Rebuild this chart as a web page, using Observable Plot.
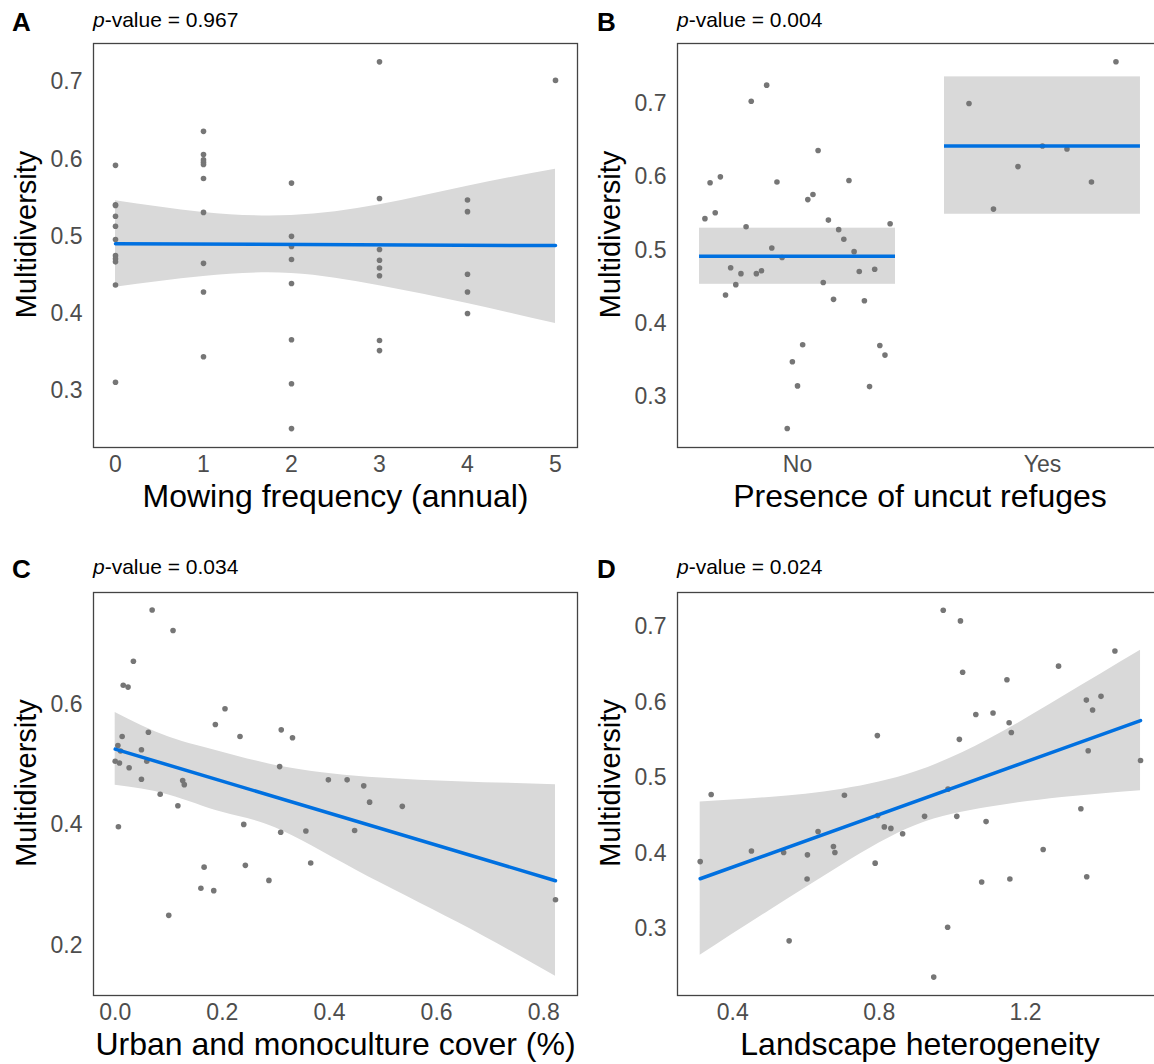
<!DOCTYPE html>
<html>
<head>
<meta charset="utf-8">
<script src="https://cdn.jsdelivr.net/npm/d3@7"></script>
<script src="https://cdn.jsdelivr.net/npm/@observablehq/plot@0.6"></script>
<style>
html, body { margin: 0; padding: 0; background: #fff; overflow: hidden; width: 1154px; height: 1064px; }
#fig { position: relative; width: 1154px; height: 1064px; overflow: hidden; font-family: "Liberation Sans", Arial, Helvetica, sans-serif; }
.panel { position: absolute; }
.panel svg { max-width: none !important; }
.letter { position: absolute; font-weight: bold; font-size: 26px; color: #000; line-height: 1; }
.pval { position: absolute; font-size: 21px; color: #000; line-height: 1; white-space: nowrap; }
</style>
</head>
<body>
<div id="fig"></div>
<script>
// ---------------- DATA ----------------
// Panel A: mowing frequency
const mowingFreq = [0,0,0,0,0,0,0,0,0,0,0, 1,1,1,1,1,1,1,1,1,1, 2,2,2,2,2,2,2,2, 3,3,3,3,3,3,3,3, 4,4,4,4,4, 5];
const multidivA = [0.592,0.541,0.540,0.526,0.513,0.496,0.475,0.471,0.467,0.437,0.311,
                   0.636,0.606,0.599,0.596,0.593,0.575,0.531,0.465,0.428,0.344,
                   0.569,0.500,0.487,0.470,0.439,0.366,0.309,0.251,
                   0.726,0.549,0.483,0.469,0.459,0.449,0.365,0.352,
                   0.547,0.532,0.451,0.428,0.400,
                   0.702];
const fitAx = [0, 5];
const fitAy = [0.4905, 0.488];
const bandAx = [0, 1, 2, 3, 4, 5];
const bandAlo = [0.434, 0.448, 0.452, 0.436, 0.413, 0.387];
const bandAhi = [0.546, 0.531, 0.527, 0.541, 0.565, 0.587];
const pValA = "0.967";

// Panel B: presence of uncut refuges
const refugeCats = ["No", "Yes"];
const refugeNo = [0.543,0.592,0.551,0.600,0.439,0.476,0.453,0.468,0.532,0.703,0.468,0.472,0.725,0.503,
                  0.593,0.490,0.257,0.348,0.315,0.371,0.569,0.576,0.636,0.456,0.541,0.433,0.528,0.515,
                  0.595,0.498,0.471,0.431,0.314,0.474,0.370,0.357,0.536];
const refugeYes = [0.700,0.556,0.614,0.642,0.638,0.593,0.757];
const refugeMean = [0.4917, 0.6422];
const refugeLo = [0.4535, 0.549];
const refugeHi = [0.530, 0.7363];
const pValB = "0.004";

// Panel C: urban and monoculture cover
const coverC = [0.000,0.005,0.008,0.010,0.013,0.006,0.015,0.024,0.026,0.034,0.049,0.049,0.059,0.062,0.069,
                0.084,0.100,0.108,0.117,0.126,0.129,0.160,0.166,0.184,0.187,0.205,0.233,0.240,0.243,0.287,
                0.307,0.309,0.310,0.331,0.356,0.365,0.398,0.433,0.447,0.464,0.475,0.536,0.822];
const multidivC = [0.506,0.532,0.503,0.523,0.547,0.397,0.632,0.629,0.495,0.672,0.476,0.525,0.506,0.554,0.757,
                   0.451,0.250,0.723,0.432,0.474,0.467,0.295,0.330,0.291,0.567,0.593,0.547,0.401,0.333,0.308,
                   0.497,0.388,0.558,0.545,0.390,0.337,0.475,0.475,0.391,0.465,0.438,0.431,0.276];
const fitCx = [0, 0.822];
const fitCy = [0.526, 0.3075];
const bandCx = [0, 0.1, 0.2, 0.3, 0.45, 0.64, 0.822];
const bandClo = [0.466, 0.450, 0.421, 0.395, 0.325, 0.238, 0.149];
const bandChi = [0.587, 0.546, 0.521, 0.499, 0.481, 0.472, 0.467];
const pValC = "0.034";

// Panel D: landscape heterogeneity
const heteroD = [0.311,0.341,0.451,0.539,0.554,0.604,0.603,0.633,0.675,0.679,0.705,0.789,0.795,0.796,0.814,
                 0.832,0.864,0.924,0.949,0.975,0.987,0.988,1.012,1.019,1.022,1.028,1.064,1.080,1.092,1.111,
                 1.149,1.155,1.161,1.157,1.248,1.290,1.351,1.366,1.371,1.367,1.383,1.406,1.444,1.514];
const multidivD = [0.389,0.478,0.403,0.401,0.284,0.398,0.366,0.429,0.409,0.401,0.477,0.387,0.556,0.450,0.435,
                   0.433,0.426,0.449,0.236,0.722,0.302,0.485,0.449,0.551,0.708,0.640,0.584,0.362,0.442,0.586,
                   0.630,0.573,0.560,0.366,0.405,0.648,0.459,0.603,0.536,0.369,0.590,0.608,0.668,0.523];
const fitDx = [0.311, 1.514];
const fitDy = [0.3663, 0.5759];
const bandDx = [0.311, 0.5, 0.7, 0.9, 1.1, 1.3, 1.514];
const bandDlo = [0.265, 0.324, 0.385, 0.437, 0.461, 0.474, 0.483];
const bandDhi = [0.468, 0.474, 0.485, 0.508, 0.551, 0.607, 0.669];
const pValD = "0.024";

// ---------------- STYLE ----------------
const FONT = '"Liberation Sans", Arial, Helvetica, sans-serif';
const BLUE = "#0070e0";
const BAND = "#d9d9d9";
const DOT = "#767676";
const fmt1 = d3.format(".1f");

const zip = (xs, ys) => xs.map((x, i) => ({x, y: ys[i]}));
const zipBand = (xs, lo, hi) => xs.map((x, i) => ({x, lo: lo[i], hi: hi[i]}));

function makePanel(o) {
  return Plot.plot({
    width: o.width, height: o.height,
    marginLeft: o.ml, marginRight: o.mr, marginTop: o.mt, marginBottom: o.mb,
    style: {fontFamily: FONT, fontSize: "23px", color: "#4d4d4d", background: "transparent", overflow: "visible", maxWidth: "none"},
    x: {domain: o.xDomain},
    y: {domain: o.yDomain},
    marks: [
      ...o.under,
      Plot.axisX({ticks: o.xTicks, tickFormat: o.xFormat, tickSize: 0, tickPadding: 8, fontSize: 23, label: null, fill: "#4d4d4d"}),
      Plot.axisY({ticks: o.yTicks, tickFormat: fmt1, tickSize: 0, tickPadding: 11, fontSize: 23, label: null, fill: "#4d4d4d"}),
      Plot.text([o.xLabel], {text: d => d, frameAnchor: "bottom", dy: 37, lineAnchor: "top", textAnchor: "middle", fontSize: 32, fill: "#000"}),
      Plot.text(["Multidiversity"], {text: d => d, frameAnchor: "left", dx: -78, dy: -11, rotate: -90, lineAnchor: "top", textAnchor: "middle", fontSize: 29, fill: "#000"}),
      ...o.marks,
      Plot.frame({stroke: "#444", strokeWidth: 1.3})
    ]
  });
}

function regressionMarks(points, fit, band) {
  return {
    under: [Plot.areaY(band, {x: "x", y1: "lo", y2: "hi", fill: BAND, curve: "natural"})],
    marks: [
      Plot.dot(points, {x: "x", y: "y", r: 2.8, fill: DOT}),
      Plot.line(fit, {x: "x", y: "y", stroke: BLUE, strokeWidth: 3.5})
    ]
  };
}

// Panel A
const mA = regressionMarks(zip(mowingFreq, multidivA), zip(fitAx, fitAy), zipBand(bandAx, bandAlo, bandAhi));
const plotA = makePanel({
  width: 580, height: 530, ml: 93, mr: 3, mt: 43, mb: 83,
  xDomain: [-0.25, 5.25], yDomain: [0.2265, 0.7498],
  xTicks: [0, 1, 2, 3, 4, 5], xFormat: d => String(d), yTicks: [0.3, 0.4, 0.5, 0.6, 0.7],
  xLabel: "Mowing frequency (annual)", under: mA.under, marks: mA.marks
});

// Panel B
const boxHalf = 0.4;              // half-width of the mean/CI boxes, in category units
const jitterHalf = [0.378, 0.30]; // spread of the jittered points per category
const dataB = [];
[refugeNo, refugeYes].forEach((vals, k) => {
  const n = vals.length;
  vals.forEach((v, i) => dataB.push({x: k + 1 - jitterHalf[k] + 2 * jitterHalf[k] * i / (n - 1), y: v}));
});
const summaryB = refugeCats.map((c, i) => ({pos: i + 1, mean: refugeMean[i], lo: refugeLo[i], hi: refugeHi[i]}));
const plotB = makePanel({
  width: 590, height: 530, ml: 97, mr: 8, mt: 43, mb: 83,
  xDomain: [0.51, 2.49], yDomain: [0.231, 0.7818],
  xTicks: [1, 2], xFormat: d => refugeCats[d - 1], yTicks: [0.3, 0.4, 0.5, 0.6, 0.7],
  xLabel: "Presence of uncut refuges",
  under: [Plot.rect(summaryB, {x1: d => d.pos - boxHalf, x2: d => d.pos + boxHalf, y1: "lo", y2: "hi", fill: BAND})],
  marks: [
    Plot.dot(dataB, {x: "x", y: "y", r: 2.8, fill: DOT}),
    Plot.ruleY(summaryB, {y: "mean", x1: d => d.pos - boxHalf, x2: d => d.pos + boxHalf, stroke: BLUE, strokeWidth: 3.5})
  ]
});

// Panel C
const mC = regressionMarks(zip(coverC, multidivC), zip(fitCx, fitCy), zipBand(bandCx, bandClo, bandChi));
const plotC = makePanel({
  width: 580, height: 519, ml: 93, mr: 3, mt: 47, mb: 69,
  xDomain: [-0.0405, 0.8631], yDomain: [0.1169, 0.7861],
  xTicks: [0, 0.2, 0.4, 0.6, 0.8], xFormat: fmt1, yTicks: [0.2, 0.4, 0.6],
  xLabel: "Urban and monoculture cover (%)", under: mC.under, marks: mC.marks
});

// Panel D
const mD = regressionMarks(zip(heteroD, multidivD), zip(fitDx, fitDy), zipBand(bandDx, bandDlo, bandDhi));
const plotD = makePanel({
  width: 590, height: 519, ml: 97, mr: 8, mt: 47, mb: 69,
  xDomain: [0.249, 1.574], yDomain: [0.2116, 0.7456],
  xTicks: [0.4, 0.8, 1.2], xFormat: fmt1, yTicks: [0.3, 0.4, 0.5, 0.6, 0.7],
  xLabel: "Landscape heterogeneity", under: mD.under, marks: mD.marks
});

// ---------------- LAYOUT ----------------
const fig = document.getElementById("fig");
function place(node, left, top, w, h) {
  const wrap = document.createElement("div");
  wrap.className = "panel";
  wrap.style.left = left + "px";
  wrap.style.top = top + "px";
  wrap.style.width = w + "px";
  wrap.style.height = h + "px";
  wrap.appendChild(node);
  fig.appendChild(wrap);
}
place(plotA, 0, 0, 580, 530);
place(plotB, 580, 0, 590, 530);
place(plotC, 0, 545, 580, 519);
place(plotD, 580, 545, 590, 519);

function label(cls, html, left, top) {
  const d = document.createElement("div");
  d.className = cls;
  d.innerHTML = html;
  d.style.left = left + "px";
  d.style.top = top + "px";
  fig.appendChild(d);
}
const letters = ["A", "B", "C", "D"];
const pvals = [pValA, pValB, pValC, pValD];
const letterPos = [[12, 9], [597, 9], [12, 556], [597, 556]];
const pvalPos = [[93, 9], [677, 9], [93, 556], [677, 556]];
letters.forEach((l, i) => label("letter", l, letterPos[i][0], letterPos[i][1]));
pvals.forEach((p, i) => label("pval", "<i>p</i>-value = " + p, pvalPos[i][0], pvalPos[i][1]));
</script>
</body>
</html>
